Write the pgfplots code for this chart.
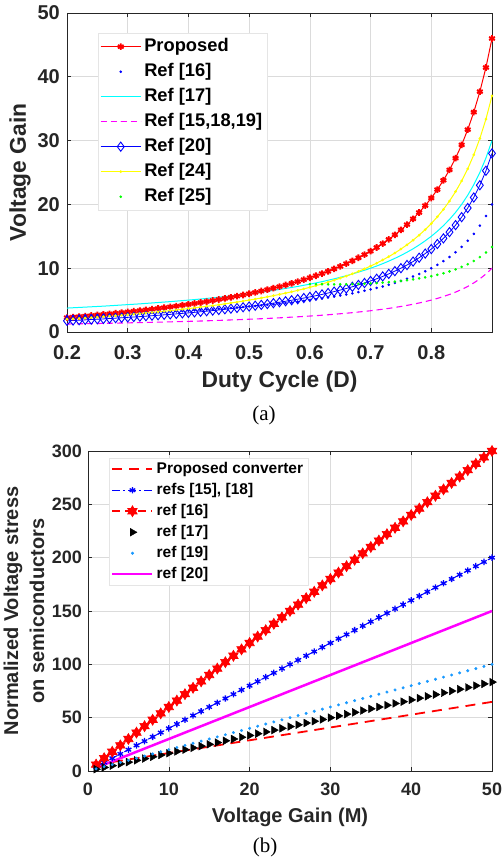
\documentclass[border=0pt]{standalone}
\usepackage{fontspec}
\setmainfont{Liberation Sans}
\newfontfamily\capfont{Liberation Serif}
\usepackage{pgfplots}
\usepackage{pgfplotstable}
\pgfplotsset{compat=1.18}

\definecolor{gridc}{gray}{0.86}
\definecolor{axc}{gray}{0.15}
\definecolor{lblue}{rgb}{0.1,0.6,1}
\definecolor{legc}{gray}{0.9}
\definecolor{mred}{rgb}{1,0,0}
\definecolor{mblue}{rgb}{0,0,1}
\definecolor{mcyan}{rgb}{0,1,1}
\definecolor{mmag}{rgb}{1,0,1}
\definecolor{myel}{rgb}{1,1,0}
\definecolor{mgreen}{rgb}{0,1,0}

\pgfdeclareplotmark{hexagram}{%
  \pgfpathmoveto{\pgfqpointpolar{90}{\pgfplotmarksize}}%
  \pgfpathlineto{\pgfqpointpolar{210}{\pgfplotmarksize}}%
  \pgfpathlineto{\pgfqpointpolar{330}{\pgfplotmarksize}}%
  \pgfpathclose
  \pgfpathmoveto{\pgfqpointpolar{270}{\pgfplotmarksize}}%
  \pgfpathlineto{\pgfqpointpolar{30}{\pgfplotmarksize}}%
  \pgfpathlineto{\pgfqpointpolar{150}{\pgfplotmarksize}}%
  \pgfpathclose
  \pgfusepathqfillstroke}

\pgfplotstableread{
D P R16 R17 R15 R20 R24
0.20 2.25 2.50 3.75 1.25 1.75 2.00
0.21 2.33 2.53 3.80 1.27 1.80 2.06
0.22 2.41 2.56 3.85 1.28 1.85 2.13
0.23 2.49 2.60 3.90 1.30 1.90 2.19
0.24 2.58 2.63 3.95 1.32 1.95 2.26
0.25 2.67 2.67 4.00 1.33 2.00 2.33
0.26 2.76 2.70 4.05 1.35 2.05 2.41
0.27 2.85 2.74 4.11 1.37 2.11 2.48
0.28 2.94 2.78 4.17 1.39 2.17 2.56
0.29 3.04 2.82 4.23 1.41 2.23 2.63
0.30 3.14 2.86 4.29 1.43 2.29 2.71
0.31 3.25 2.90 4.35 1.45 2.35 2.80
0.32 3.35 2.94 4.41 1.47 2.41 2.88
0.33 3.46 2.99 4.48 1.49 2.48 2.97
0.34 3.58 3.03 4.55 1.52 2.55 3.06
0.35 3.69 3.08 4.62 1.54 2.62 3.15
0.36 3.81 3.13 4.69 1.56 2.69 3.25
0.37 3.94 3.17 4.76 1.59 2.76 3.35
0.38 4.06 3.23 4.84 1.61 2.84 3.45
0.39 4.20 3.28 4.92 1.64 2.92 3.56
0.40 4.33 3.33 5.00 1.67 3.00 3.67
0.41 4.47 3.39 5.08 1.69 3.08 3.78
0.42 4.62 3.45 5.17 1.72 3.17 3.90
0.43 4.77 3.51 5.26 1.75 3.26 4.02
0.44 4.93 3.57 5.36 1.79 3.36 4.14
0.45 5.09 3.64 5.45 1.82 3.45 4.27
0.46 5.26 3.70 5.56 1.85 3.56 4.41
0.47 5.43 3.77 5.66 1.89 3.66 4.55
0.48 5.62 3.85 5.77 1.92 3.77 4.69
0.49 5.80 3.92 5.88 1.96 3.88 4.84
0.50 6.00 4.00 6.00 2.00 4.00 5.00
0.51 6.20 4.08 6.12 2.04 4.12 5.16
0.52 6.42 4.17 6.25 2.08 4.25 5.33
0.53 6.64 4.26 6.38 2.13 4.38 5.51
0.54 6.87 4.35 6.52 2.17 4.52 5.70
0.55 7.11 4.44 6.67 2.22 4.67 5.89
0.56 7.36 4.55 6.82 2.27 4.82 6.09
0.57 7.63 4.65 6.98 2.33 4.98 6.30
0.58 7.90 4.76 7.14 2.38 5.14 6.52
0.59 8.20 4.88 7.32 2.44 5.32 6.76
0.60 8.50 5.00 7.50 2.50 5.50 7.00
0.61 8.82 5.13 7.69 2.56 5.69 7.26
0.62 9.16 5.26 7.89 2.63 5.89 7.53
0.63 9.51 5.41 8.11 2.70 6.11 7.81
0.64 9.89 5.56 8.33 2.78 6.33 8.11
0.65 10.29 5.71 8.57 2.86 6.57 8.43
0.66 10.71 5.88 8.82 2.94 6.82 8.76
0.67 11.15 6.06 9.09 3.03 7.09 9.12
0.68 11.63 6.25 9.38 3.13 7.38 9.50
0.69 12.13 6.45 9.68 3.23 7.68 9.90
0.70 12.67 6.67 10.00 3.33 8.00 10.33
0.71 13.24 6.90 10.34 3.45 8.34 10.79
0.72 13.86 7.14 10.71 3.57 8.71 11.29
0.73 14.52 7.41 11.11 3.70 9.11 11.81
0.74 15.23 7.69 11.54 3.85 9.54 12.38
0.75 16.00 8.00 12.00 4.00 10.00 13.00
0.76 16.83 8.33 12.50 4.17 10.50 13.67
0.77 17.74 8.70 13.04 4.35 11.04 14.39
0.78 18.73 9.09 13.64 4.55 11.64 15.18
0.79 19.81 9.52 14.29 4.76 12.29 16.05
0.80 21.00 10.00 15.00 5.00 13.00 17.00
0.81 22.32 10.53 15.79 5.26 13.79 18.05
0.82 23.78 11.11 16.67 5.56 14.67 19.22
0.83 25.41 11.76 17.65 5.88 15.65 20.53
0.84 27.25 12.50 18.75 6.25 16.75 22.00
0.85 29.33 13.33 20.00 6.67 18.00 23.67
0.86 31.71 14.29 21.43 7.14 19.43 25.57
0.87 34.46 15.38 23.08 7.69 21.08 27.77
0.88 37.67 16.67 25.00 8.33 23.00 30.33
0.89 41.45 18.18 27.27 9.09 25.27 33.36
0.90 46.00 20.00 30.00 10.00 28.00 37.00
}\tblA

\pgfplotstableread{
D G
0.60 7.50
0.61 7.48
0.62 7.47
0.63 7.46
0.64 7.47
0.65 7.47
0.66 7.49
0.67 7.51
0.68 7.54
0.69 7.57
0.70 7.62
0.71 7.67
0.72 7.74
0.73 7.81
0.74 7.90
0.75 8.00
0.76 8.11
0.77 8.24
0.78 8.39
0.79 8.56
0.80 8.75
0.81 8.97
0.82 9.21
0.83 9.50
0.84 9.82
0.85 10.20
0.86 10.63
0.87 11.14
0.88 11.74
0.89 12.46
0.90 13.33
}\tblG

\pgfplotstableread{
M P A B C E F
1 6.0 4 6 1.67 2 3
2 7.2 8 12 3.33 4 6
3 8.4 12 18 5.00 6 9
4 9.6 16 24 6.67 8 12
5 10.8 20 30 8.33 10 15
6 12.0 24 36 10.00 12 18
7 13.2 28 42 11.67 14 21
8 14.4 32 48 13.33 16 24
9 15.6 36 54 15.00 18 27
10 16.8 40 60 16.67 20 30
11 18.0 44 66 18.33 22 33
12 19.2 48 72 20.00 24 36
13 20.4 52 78 21.67 26 39
14 21.6 56 84 23.33 28 42
15 22.8 60 90 25.00 30 45
16 24.0 64 96 26.67 32 48
17 25.2 68 102 28.33 34 51
18 26.4 72 108 30.00 36 54
19 27.6 76 114 31.67 38 57
20 28.8 80 120 33.33 40 60
21 30.0 84 126 35.00 42 63
22 31.2 88 132 36.67 44 66
23 32.4 92 138 38.33 46 69
24 33.6 96 144 40.00 48 72
25 34.8 100 150 41.67 50 75
26 36.0 104 156 43.33 52 78
27 37.2 108 162 45.00 54 81
28 38.4 112 168 46.67 56 84
29 39.6 116 174 48.33 58 87
30 40.8 120 180 50.00 60 90
31 42.0 124 186 51.67 62 93
32 43.2 128 192 53.33 64 96
33 44.4 132 198 55.00 66 99
34 45.6 136 204 56.67 68 102
35 46.8 140 210 58.33 70 105
36 48.0 144 216 60.00 72 108
37 49.2 148 222 61.67 74 111
38 50.4 152 228 63.33 76 114
39 51.6 156 234 65.00 78 117
40 52.8 160 240 66.67 80 120
41 54.0 164 246 68.33 82 123
42 55.2 168 252 70.00 84 126
43 56.4 172 258 71.67 86 129
44 57.6 176 264 73.33 88 132
45 58.8 180 270 75.00 90 135
46 60.0 184 276 76.67 92 138
47 61.2 188 282 78.33 94 141
48 62.4 192 288 80.00 96 144
49 63.6 196 294 81.67 98 147
50 64.8 200 300 83.33 100 150
}\tblB

\pgfplotsset{
  mystyle/.style={
    scale only axis, clip=false,
    axis line style={axc, line width=0.8pt},
    tick style={axc, line width=0.6pt},
    major tick length=4pt,
    tick align=inside,
    xtick pos=both, ytick pos=both,
    grid=major, grid style={gridc, line width=0.6pt},
    /pgf/number format/assume math mode=true,
    legend cell align=left,
    legend image code/.code={\draw[mark repeat=2,mark phase=2] plot coordinates {(0pt,0pt)(20pt,0pt)(40pt,0pt)};},
  }
}

\begin{document}
\begin{tikzpicture}
\path[use as bounding box] (0,0) rectangle (503pt,861pt);

% ---------------- (a) ----------------
\begin{axis}[mystyle,
  at={(67pt,529pt)}, anchor=south west,
  width=425pt, height=319pt,
  xmin=0.2, xmax=0.9, ymin=0, ymax=50,
  xtick={0.2,0.3,0.4,0.5,0.6,0.7,0.8},
  xticklabels={0.2,0.3,0.4,0.5,0.6,0.7,0.8},
  ytick={0,10,20,30,40,50},
  ticklabel style={font=\bfseries\fontsize{20}{20}\selectfont, text=axc, inner sep=1pt},
  xticklabel style={yshift=-12pt},
  yticklabel style={xshift=-6pt},
  xlabel={Duty Cycle (D)},
  ylabel={Voltage Gain},
  label style={font=\bfseries\fontsize{22.8}{22.8}\selectfont, text=axc},
  xlabel style={at={(axis description cs:0.5,-0.1567)}, anchor=center},
  ylabel style={at={(axis description cs:-0.1106,0.5)}, anchor=center},
  legend style={at={(0.0729,0.9373)}, anchor=north west, draw=legc, fill=white,
    font=\bfseries\fontsize{18.3}{18.3}\selectfont, inner xsep=2pt, inner ysep=3pt,
    row sep=4pt, nodes={text height=13pt, text depth=4pt, inner ysep=2pt, inner xsep=3pt}},
]
\addplot[mred, line width=1pt, mark=asterisk, mark size=3.3pt, mark options={solid, line width=1.9pt}] table[x=D,y=P] {\tblA};
\addlegendentry{Proposed}
\addplot[mblue, only marks, mark=*, mark size=1.1pt] table[x=D,y=R16] {\tblA};
\addlegendentry{Ref [16]}
\addplot[mcyan, line width=1pt] table[x=D,y=R17] {\tblA};
\addlegendentry{Ref [17]}
\addplot[mmag, line width=1.1pt, dash pattern=on 6pt off 4pt] table[x=D,y=R15] {\tblA};
\addlegendentry{Ref [15,18,19]}
\addplot[mblue, line width=0.8pt, mark=diamond, mark size=4.6pt, mark options={solid, line width=0.9pt}] table[x=D,y=R20] {\tblA};
\addlegendentry{Ref [20]}
\addplot[myel, line width=1pt, mark=*, mark size=0.8pt] table[x=D,y=R24] {\tblA};
\addlegendentry{Ref [24]}
\addplot[mgreen, only marks, mark=*, mark size=1.1pt] table[x=D,y=G] {\tblG};
\addlegendentry{Ref [25]}
\end{axis}

\node[font=\capfont\fontsize{21}{21}\selectfont] at (264pt,446pt) {(a)};

% ---------------- (b) ----------------
\begin{axis}[mystyle,
  at={(88pt,90pt)}, anchor=south west,
  width=404pt, height=320pt,
  xmin=0, xmax=50, ymin=0, ymax=300,
  xtick={0,10,20,30,40,50},
  ytick={0,50,100,150,200,250,300},
  ticklabel style={font=\bfseries\fontsize{18}{18}\selectfont, text=axc, inner sep=1pt},
  xticklabel style={yshift=-11pt},
  yticklabel style={xshift=-5pt},
  xlabel={Voltage Gain (M)},
  ylabel={Normalized Voltage stress\\on semiconductors},
  label style={font=\bfseries\fontsize{20}{26}\selectfont, text=axc},
  xlabel style={at={(axis description cs:0.5,-0.1438)}, anchor=center},
  ylabel style={at={(axis description cs:-0.1584,0.5)}, anchor=center, align=center},
  legend style={at={(0.052,0.978)}, anchor=north west, draw=legc, fill=white,
    font=\bfseries\fontsize{15.5}{15.5}\selectfont, inner xsep=2pt, inner ysep=2pt,
    row sep=3pt, nodes={text height=11.5pt, text depth=3.5pt, inner ysep=1.5pt, inner xsep=3pt}},
]
\addplot[mred, line width=1.8pt, dash pattern=on 10pt off 7pt] table[x=M,y=P] {\tblB};
\addlegendentry{Proposed converter}
\addplot[mblue, line width=1pt, dash pattern=on 8pt off 3pt on 2pt off 3pt, mark=asterisk, mark size=3.2pt, mark options={solid, line width=1.3pt}] table[x=M,y=A] {\tblB};
\addlegendentry{refs [15], [18]}
\addplot[mred, line width=1.8pt, dash pattern=on 8pt off 5pt, mark=hexagram, mark size=5.5pt, mark options={solid, fill=mred, line width=0.6pt}] table[x=M,y=B] {\tblB};
\addlegendentry{ref [16]}
\addplot[black, only marks, mark=triangle*, mark size=4.5pt, mark options={rotate=-90}] table[x=M,y=C] {\tblB};
\addlegendentry{ref [17]}
\addplot[lblue, only marks, mark=*, mark size=1.3pt] table[x=M,y=E] {\tblB};
\addlegendentry{ref [19]}
\addplot[mmag, line width=2.5pt] table[x=M,y=F] {\tblB};
\addlegendentry{ref [20]}
\end{axis}

\node[font=\capfont\fontsize{21}{21}\selectfont] at (265pt,14pt) {(b)};
\end{tikzpicture}
\end{document}
